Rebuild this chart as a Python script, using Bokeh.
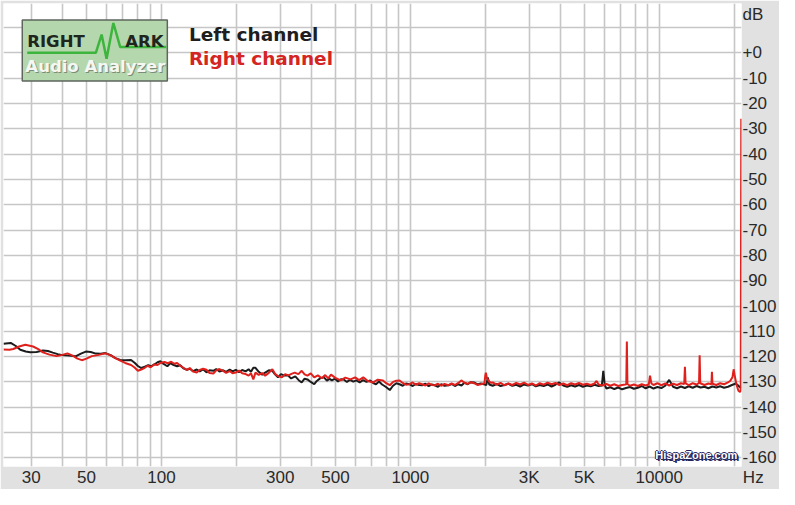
from bokeh.plotting import figure
from bokeh.models import Range1d, FixedTicker, Label
from bokeh.embed import file_html
from bokeh.resources import INLINE

# ---------------- data ----------------
freq_left = [23.2, 24.8, 26.0, 27.1, 28.5, 29.7, 31.5, 33.4, 35.0, 36.6, 38.3, 40.0, 42.5, 45.4, 47.5, 49.7,
             52.0, 54.5, 57.0, 59.6, 62.5, 65.3, 68.3, 71.5, 75.5, 78.0, 80.4, 83.0, 85.7, 88.5, 91.0, 93.9,
             96.5, 99.1, 102, 105.6, 108.5, 111.5, 115.6, 119, 122.5, 126.6, 130, 134, 138.6, 142.5, 147,
             151.7, 156, 161.6, 166, 171, 177, 182, 188, 193, 199, 205, 211, 218, 224, 229, 234,
             238.7, 246, 254, 262, 270, 279, 286, 294, 302, 312, 322, 332, 345, 356, 366, 376, 386, 398,
             411, 421, 435, 450, 462, 474, 484, 498, 512, 526, 540, 556, 572, 590, 607, 626, 645, 667, 690,
             709, 728, 748, 770, 796, 827, 850, 878, 905, 932, 960, 991, 1022, 1052, 1085, 1115, 1150,
             1185, 1220, 1254, 1292, 1330, 1372, 1424, 1465, 1510, 1559, 1605, 1650, 1700, 1750, 1803,
             1860, 1920, 1974, 2020, 2047, 2075, 2142, 2221, 2303, 2388, 2476, 2568, 2663, 2761, 2863,
             2969, 3079, 3192, 3310, 3432, 3559, 3691, 3827, 3968, 4115, 4267, 4425, 4588, 4758, 4934,
             5116, 5305, 5501, 5704, 5880, 5960, 6040, 6134, 6360, 6595, 6839, 7092, 7354, 7626, 7908,
             8200, 8503, 8817, 9143, 9481, 9831, 10195, 10571, 10962, 11367, 11787, 12223, 12674, 13143,
             13628, 14132, 14654, 15195, 15757, 16339, 16943, 17569, 18218, 18891, 19589, 20313, 21064,
             21300]
level_left = [-114.9, -114.6, -115.8, -117.3, -118.0, -118.3, -118.2, -117.6, -117.8, -118.4, -119.0, -119.4,
              -119.6, -119.8, -118.8, -118.0, -118.2, -118.8, -118.9, -118.6, -119.4, -120.6, -121.3, -121.4,
              -121.3, -122.4, -123.7, -124.5, -124.0, -123.4, -123.8, -123.0, -122.2, -121.8, -122.9, -123.8,
              -122.6, -123.2, -123.8, -123.4, -124.6, -125.2, -124.8, -125.7, -125.1, -125.8, -125.0, -126.2,
              -125.4, -125.6, -124.9, -125.9, -125.4, -126.0, -125.1, -125.8, -125.2, -126.1, -125.3, -125.8,
              -125.0, -126.0, -124.4,
              -124.4, -126.0, -127.1, -126.2, -125.4, -125.6, -127.0, -128.2, -126.9, -127.5, -127.4, -128.6,
              -127.8, -129.3, -130.2, -128.7, -129.0, -130.0, -130.9, -129.6, -128.5, -128.2, -129.5, -128.8,
              -129.4, -128.7, -129.8, -128.9, -129.0, -130.0, -129.2, -129.9, -129.4, -130.2, -129.3, -130.0,
              -129.4, -130.4, -130.9, -129.8, -131.0, -131.9, -133.2, -131.6, -130.5, -130.9, -131.5, -130.6,
              -130.9, -131.6, -130.8, -131.2, -131.3, -130.7, -131.7, -131.0, -131.3, -131.9, -130.9, -131.5,
              -131.3, -130.8, -131.6, -130.9, -131.4, -130.3, -130.9, -130.1, -130.2, -131.0, -130.6, -130.9,
              -131.2, -128.2, -131.0, -131.5, -130.8, -131.6, -131.2, -130.7, -131.5, -131.1, -131.8, -131.0,
              -131.4, -130.9, -131.7, -131.2, -131.6, -131.0, -131.8, -131.1, -130.2, -131.4, -131.9, -131.3,
              -131.8, -131.2, -131.9, -131.4, -131.7, -131.1, -131.6, -131.4, -125.6, -131.2, -132.6, -132.1,
              -132.8, -132.2, -132.9, -132.4, -132.0, -132.7, -132.3, -131.6, -132.5, -131.8, -132.6, -132.0,
              -132.4, -131.5, -129.2, -131.9, -132.5, -131.8, -132.4, -131.7, -132.3, -131.6, -132.2, -131.9,
              -132.5, -131.8, -132.2, -131.7, -132.3, -131.9, -131.2, -130.6, -132.0, -132.4]

freq_right = [23.2, 24.5, 25.4, 26.8, 28.4, 30.5, 32.0, 33.4, 35.5, 37.9, 40.0, 41.9, 44.0, 46.0, 47.9, 50.0,
              52.5, 55.5, 59.6, 62.5, 65.3, 68.3, 71.5, 75.5, 78.0, 80.4, 83.0, 85.7, 88.0, 90.5, 93.5, 96.4,
              99.5, 102.8, 106, 109.5, 112.5, 115.6, 119, 122.5, 126.6, 130, 134, 138.6, 142.5, 147, 151.7,
              156, 161.6, 166, 171, 177, 182, 188, 193, 199, 205, 211, 218, 224, 229, 234,
              238.7, 246, 254, 261, 270, 279, 286, 294, 305, 314, 324, 333, 343, 355, 366, 376, 386, 398,
              411, 425, 440, 455, 468, 480, 500, 525, 548, 575, 600, 622, 647, 675, 709, 740, 776, 800, 827,
              850, 878, 905, 932, 960, 991, 1022, 1052, 1085, 1115, 1150, 1185, 1220, 1254, 1292, 1330,
              1372, 1424, 1465, 1510, 1559, 1602, 1650, 1700, 1750, 1803, 1860, 1920, 1985, 2000, 2010,
              2030, 2066, 2100, 2142, 2221, 2303, 2388, 2476, 2568, 2663, 2761, 2863, 2969, 3079, 3192,
              3310, 3432, 3559, 3691, 3827, 3968, 4115, 4267, 4425, 4588, 4758, 4934, 5116, 5305, 5501,
              5600, 5704, 5915, 6134, 6360, 6595, 6839, 7092, 7300, 7370, 7410, 7450, 7626, 7908, 8200,
              8503, 8817, 9080, 9180, 9300, 9481, 9831, 10195, 10571, 10962, 11367, 11787, 12223, 12600,
              12680, 12760, 13143, 13628, 14132, 14450, 14530, 14610, 15195, 15757, 16200, 16280, 16360,
              16943, 17569, 18218, 18891, 19300, 19700, 19900, 20100, 20400, 20800, 21100, 21250, 21350]
level_right = [-117.2, -117.3, -117.0, -116.0, -115.3, -116.0, -117.0, -118.3, -119.2, -119.8, -119.3, -118.7,
               -119.6, -120.8, -121.4, -120.8, -119.8, -119.4, -118.7, -119.5, -120.6, -121.6, -122.5, -123.3,
               -124.3, -125.6, -125.1, -124.4, -123.6, -124.2, -123.1, -123.3, -122.4, -122.1, -122.6, -122.0,
               -122.8, -122.5, -123.6, -124.4, -125.2, -124.5, -125.9, -126.3, -125.3, -124.8, -125.2, -126.5,
               -126.7, -125.4, -124.9, -125.6, -126.4, -125.7, -126.6, -126.3, -125.5, -126.6, -126.9, -127.5,
               -126.6, -129.0,
               -126.3, -127.2, -126.5, -127.5, -126.4, -125.0, -126.8, -127.7, -128.2, -126.9, -127.4, -126.8,
               -126.3, -126.9, -125.6, -127.0, -127.5, -126.6, -128.2, -127.4, -128.5, -127.3, -128.6, -127.1,
               -128.4, -129.4, -128.3, -129.0, -128.2, -129.3, -128.2, -129.6, -130.2, -129.1, -129.4, -130.5,
               -131.3, -130.1, -129.5, -129.4, -130.4, -131.1, -130.9, -130.2, -131.1, -130.5, -130.9, -131.4,
               -130.6, -131.2, -131.3, -130.7, -131.5, -130.8, -131.3, -130.6, -131.2, -130.4, -129.4, -130.3,
               -130.8, -130.1, -130.5, -131.2, -130.9, -130.5, -127.5, -126.3, -128.4, -129.6, -130.3, -130.2,
               -131.1, -130.4, -131.3, -130.6, -131.2, -130.4, -131.0, -130.3, -131.2, -130.6, -131.4, -130.5,
               -131.1, -130.3, -130.9, -130.4, -131.2, -130.6, -131.3, -130.5, -131.0, -130.4, -131.1, -130.7,
               -131.2, -130.6, -129.6, -131.0, -131.4, -130.8, -131.5, -130.9, -131.6, -131.2, -131.0, -130.9,
               -114.0, -130.8, -131.5, -131.0, -131.6, -130.9, -131.4, -131.0, -127.5, -130.6, -131.2, -130.5,
               -131.3, -130.6, -131.4, -130.7, -131.2, -130.5, -130.8, -124.0, -130.6, -131.3, -130.5, -131.0,
               -130.4, -119.5, -130.5, -131.2, -130.6, -130.9, -126.0, -130.7, -131.2, -130.5, -130.9, -130.2,
               -129.5, -128.0, -125.0, -127.5, -130.8, -133.5, -134.0, -133.5, -26.0]

# the last x tick sits on the right end of the axis; its label carries the unit "Hz"
x_ticks = [30, 50, 100, 300, 500, 1000, 3000, 5000, 10000, 21390]
x_tick_labels = ["30", "50", "100", "300", "500", "1000", "3K", "5K", "10000", "\u00a0" * 5 + "Hz"]
x_grid = [30, 40, 50, 60, 70, 80, 90, 100, 200, 300, 400, 500, 600, 700, 800, 900,
          1000, 2000, 3000, 4000, 5000, 6000, 7000, 8000, 9000, 10000, 20000]
y_ticks = [15, 0, -10, -20, -30, -40, -50, -60, -70, -80, -90, -100, -110, -120, -130, -140, -150, -160]
y_tick_labels = ["dB", "+0", "-10", "-20", "-30", "-40", "-50", "-60", "-70", "-80", "-90", "-100",
                 "-110", "-120", "-130", "-140", "-150", "-160"]
y_grid = [10, 0, -10, -20, -30, -40, -50, -60, -70, -80, -90, -100, -110, -120, -130, -140, -150, -160]

# ---------------- figure ----------------
p = figure(width=779, height=489, x_axis_type="log",
           x_range=Range1d(23.2, 21400), y_range=Range1d(-163.4, 19.5),
           y_axis_location="right", output_backend="svg", toolbar_location=None,
           min_border_left=3, min_border_top=3, min_border_right=38, min_border_bottom=22,
           background_fill_color="white", border_fill_color="#e1e1e1", outline_line_color=None)

AX_FONT = "Liberation Sans"
for ax in (p.xaxis[0], p.yaxis[0]):
    ax.axis_line_color = None
    ax.major_tick_line_color = None
    ax.minor_tick_line_color = None
    ax.major_tick_out = 0
    ax.major_tick_in = 0
    ax.major_label_text_font = AX_FONT
    ax.major_label_text_font_size = "17px"
    ax.major_label_text_color = "#2a2a2a"
    ax.major_label_standoff = 1

p.xaxis[0].ticker = FixedTicker(ticks=x_ticks)
p.xaxis[0].major_label_overrides = {float(t): s for t, s in zip(x_ticks, x_tick_labels)}
p.yaxis[0].ticker = FixedTicker(ticks=y_ticks)
p.yaxis[0].major_label_overrides = {float(t): s for t, s in zip(y_ticks, y_tick_labels)}

p.xgrid.ticker = FixedTicker(ticks=x_grid)
p.ygrid.ticker = FixedTicker(ticks=y_grid)
for g in (p.xgrid[0], p.ygrid[0]):
    g.grid_line_color = "#c6c6c6"
    g.grid_line_width = 1.6

# ---------------- data lines ----------------
p.line(freq_left, level_left, line_color="#1c1c1c", line_width=2)
p.line(freq_right, level_right, line_color="#e0201c", line_width=2)

# ---------------- logo ----------------
p.quad(left=[27.6], right=[105.6], top=[13.0], bottom=[-11.1],
       fill_color="#b5d7ad", line_color="#5e665e", line_width=1.5)
p.line([28.9, 54.5, 57.5, 60.2, 64.1, 68.3, 104.6], [0, 0, 7.25, -2.3, 11.8, 2.3, 2.3],
       line_color="#3db43d", line_width=2.5)
p.add_layout(Label(x=28.9, y=4.6, text="RIGHT", text_font="DejaVu Sans", text_font_style="bold",
                   text_font_size="16.5px", text_color="#1e261e", text_baseline="middle"))
p.add_layout(Label(x=71.5, y=4.6, text="ARK", text_font="DejaVu Sans", text_font_style="bold",
                   text_font_size="16.5px", text_color="#1e261e", text_baseline="middle"))
p.add_layout(Label(x=28.4, y=-5.3, x_offset=1, y_offset=-1, text="Audio Analyzer", text_font="DejaVu Sans",
                   text_font_style="bold", text_font_size="16.5px", text_color="#7d8c7a",
                   text_baseline="middle"))
p.add_layout(Label(x=28.4, y=-5.3, text="Audio Analyzer", text_font="DejaVu Sans",
                   text_font_style="bold", text_font_size="16.5px", text_color="#f4f7f2",
                   text_baseline="middle"))

# ---------------- legend texts ----------------
p.add_layout(Label(x=128.9, y=7.25, text="Left channel", text_font="DejaVu Sans", text_font_style="bold",
                   text_font_size="18.5px", text_color="#1e1e1e", text_baseline="middle"))
p.add_layout(Label(x=128.9, y=-2.3, text="Right channel", text_font="DejaVu Sans", text_font_style="bold",
                   text_font_size="18.5px", text_color="#d42424", text_baseline="middle"))

# ---------------- watermark ----------------
for dx, dy in ((-1, 0), (1, 0), (0, -1), (0, 1), (1, -1), (2, -2)):
    p.add_layout(Label(x=9641, y=-158.8, x_offset=dx, y_offset=dy, text="HispaZone.com",
                       text_font=AX_FONT, text_font_style="bold", text_font_size="11px",
                       text_color="#25255e", text_baseline="middle"))
p.add_layout(Label(x=9641, y=-158.8, text="HispaZone.com", text_font=AX_FONT, text_font_style="bold",
                   text_font_size="11px", text_color="white", text_baseline="middle"))

open("out.html", "w").write(file_html(p, INLINE))
